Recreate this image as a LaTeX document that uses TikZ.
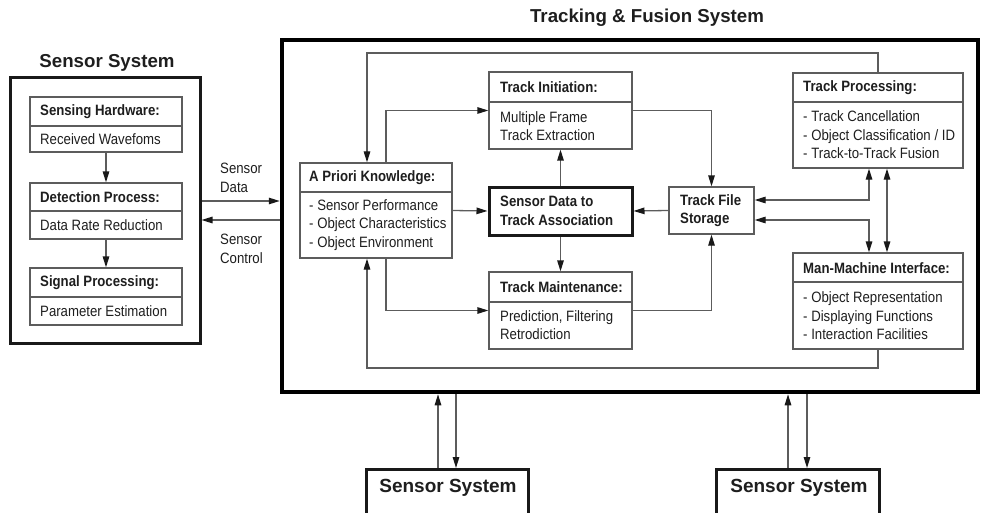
\documentclass[tikz,border=0pt]{standalone}
\usepackage{fontspec}
\setmainfont{Liberation Sans}[FakeStretch=0.88]
\newfontfamily\titlefont{Liberation Sans}
\usetikzlibrary{arrows.meta}
\definecolor{linec}{HTML}{5C5C5C}
\definecolor{txt}{HTML}{1E1E1E}
\begin{document}
\begin{tikzpicture}[x=1pt,y=-1pt,
  box/.style={draw=linec, line width=1.3pt, inner sep=0pt},
  thickbox/.style={draw=black!90, line width=3pt, inner sep=0pt},
  bigbox/.style={draw=black, line width=4.5pt, inner sep=0pt},
  div/.style={draw=linec, line width=1.3pt},
  conn/.style={draw=linec, line width=1.3pt},
  arr/.style={-{Triangle[length=11pt,width=6.5pt,color=black!90]}},
  darr/.style={{Triangle[length=11pt,width=6.5pt,color=black!90]}-{Triangle[length=11pt,width=6.5pt,color=black!90]}},
  hdr/.style={anchor=west, inner sep=0pt, font=\fontsize{15}{18.5}\selectfont\bfseries, text=txt},
  body/.style={anchor=west, inner sep=0pt, align=left, font=\fontsize{15}{18.5}\selectfont, text=txt},
  title/.style={inner sep=0pt, font=\titlefont\fontsize{18.7}{22}\selectfont\bfseries, text=txt}
]
\useasboundingbox (0,0) rectangle (981,513);
\clip (0,0) rectangle (981,513);

% titles
\node[title] (t1) at (107,63) {Sensor System};
\node[title] (t2) at (647,18) {Tracking \& Fusion System};

% left sensor system
\node[thickbox, minimum width=190, minimum height=265] (ls) at (105,210.5) {};
\node[box, minimum width=152, minimum height=55] (sh) at (106,124.5) {};
\draw[div] (sh.west |- 0,126) -- (sh.east |- 0,126);
\node[hdr] (shh) at (40,111.5) {Sensing Hardware:};
\node[body] (shb) at (40,139) {Received Wavefoms};
\node[box, minimum width=152, minimum height=56] (dp) at (106,211) {};
\draw[div] (dp.west |- 0,211) -- (dp.east |- 0,211);
\node[hdr] (dph) at (40,197) {Detection Process:};
\node[body] (dpb) at (40,225) {Data Rate Reduction};
\node[box, minimum width=152, minimum height=57] (sp) at (106,296.5) {};
\draw[div] (sp.west |- 0,297) -- (sp.east |- 0,297);
\node[hdr] (sph) at (40,282.5) {Signal Processing:};
\node[body] (spb) at (40,311) {Parameter Estimation};
\draw[conn,arr] (sh.south) -- (dp.north);
\draw[conn,arr] (dp.south) -- (sp.north);

% big box
\node[bigbox, minimum width=696, minimum height=352] (big) at (630,216) {};

% sensor data / control
\draw[conn,arr] (ls.east |- 0,201) -- (big.west |- 0,201);
\draw[conn,arr] (big.west |- 0,220) -- (ls.east |- 0,220);
\node[body] (sdl) at (220,178) {Sensor\\Data};
\node[body] (scl) at (220,249) {Sensor\\Control};

% inner nodes
\node[box, minimum width=152, minimum height=95] (api) at (376,210.5) {};
\draw[div] (api.west |- 0,192) -- (api.east |- 0,192);
\node[hdr] (apih) at (309,177.5) {A Priori Knowledge:};
\node[body] (apib) at (309,225) {- Sensor Performance\\- Object Characteristics\\- Object Environment};

\node[box, minimum width=143, minimum height=77] (ti) at (560.5,110.5) {};
\draw[div] (ti.west |- 0,102) -- (ti.east |- 0,102);
\node[hdr] (tih) at (500,87) {Track Initiation:};
\node[body] (tib) at (500,126) {Multiple Frame\\Track Extraction};

\node[thickbox, minimum width=143, minimum height=48] (assoc) at (560.5,211) {};
\node[hdr, align=left] (assoct) at (500,211) {Sensor Data to\\Track Association};

\node[box, minimum width=143, minimum height=77] (tm) at (560.5,310.5) {};
\draw[div] (tm.west |- 0,302) -- (tm.east |- 0,302);
\node[hdr] (tmh) at (500,287) {Track Maintenance:};
\node[body] (tmb) at (500,325) {Prediction, Filtering\\Retrodiction};

\node[box, minimum width=85, minimum height=47] (tfs) at (711.5,210.5) {};
\node[hdr, align=left] (tfst) at (680,210.5) {Track File\\Storage};

\node[box, minimum width=170, minimum height=95] (tp) at (878,120.5) {};
\draw[div] (tp.west |- 0,102) -- (tp.east |- 0,102);
\node[hdr] (tph) at (803,88) {Track Processing:};
\node[body] (tpb) at (803,135) {- Track Cancellation\\- Object Classification / ID\\- Track-to-Track Fusion};

\node[box, minimum width=170, minimum height=96] (mmi) at (878,301) {};
\draw[div] (mmi.west |- 0,282) -- (mmi.east |- 0,282);
\node[hdr] (mmih) at (803,268) {Man-Machine Interface:};
\node[body] (mmib) at (803,316) {- Object Representation\\- Displaying Functions\\- Interaction Facilities};

% guides
\coordinate (gA) at (367,0);
\coordinate (gB) at (386,0);
\coordinate (gD) at (869,0);
\coordinate (gE) at (887,0);
\coordinate (yTop) at (0,53);
\coordinate (yBot) at (0,368);

% connectors
\draw[conn,arr] (tp.north) -- (tp.north |- yTop) -| (api.north -| gA);
\draw[conn,arr] (api.north -| gB) |- (ti.west);
\draw[conn,arr] (api.east) -- (assoc.west);
\draw[conn,arr] (api.south -| gB) |- (tm.west);
\draw[conn,arr] (mmi.south) -- (mmi.south |- yBot) -| (api.south -| gA);
\draw[conn,arr] (assoc.north) -- (ti.south);
\draw[conn,arr] (assoc.south) -- (tm.north);
\draw[conn,arr] (ti.east) -| (tfs.north);
\draw[conn,arr] (tm.east) -| (tfs.south);
\draw[conn,arr] (tfs.west) -- (assoc.east);
\draw[conn,darr] (tfs.east |- 0,200) -| (tp.south -| gD);
\draw[conn,darr] (tfs.east |- 0,220) -| (mmi.north -| gD);
\draw[conn,darr] (tp.south -| gE) -- (mmi.north -| gE);

% bottom sensor systems
\node[thickbox, minimum width=162, minimum height=60, anchor=north] (bl) at (447,468) {};
\node[title, font=\titlefont\fontsize{19}{22}\selectfont\bfseries] (blt) at (448,488) {Sensor System};
\node[thickbox, minimum width=163, minimum height=60, anchor=north] (br) at (797.5,468) {};
\node[title, font=\titlefont\fontsize{19}{22}\selectfont\bfseries] (brt) at (799,488) {Sensor System};
\coordinate (b1) at (438,0);
\coordinate (b2) at (456,0);
\coordinate (b3) at (788,0);
\coordinate (b4) at (807,0);
\draw[conn,arr] (bl.north -| b1) -- (big.south -| b1);
\draw[conn,arr] (big.south -| b2) -- (bl.north -| b2);
\draw[conn,arr] (br.north -| b3) -- (big.south -| b3);
\draw[conn,arr] (big.south -| b4) -- (br.north -| b4);
\end{tikzpicture}
\end{document}
